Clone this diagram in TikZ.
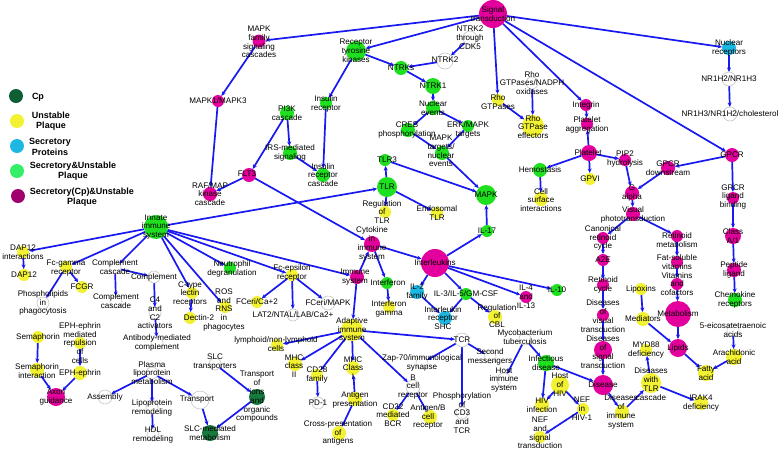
\documentclass[tikz,border=0pt]{standalone}
\usepackage{fontspec}
\setmainfont{Liberation Sans}
\usetikzlibrary{arrows.meta}
\definecolor{mg}{HTML}{E4009C}
\definecolor{gn}{HTML}{1EE01E}
\definecolor{yl}{HTML}{F2F232}
\definecolor{cy}{HTML}{1CB8E2}
\definecolor{dg}{HTML}{167A3E}
\definecolor{eb}{HTML}{1818F0}
\definecolor{lgcp}{HTML}{0B5E36}
\definecolor{lgsu}{HTML}{33EE66}
\definecolor{lgsc}{HTML}{A0006E}
\pgfdeclarelayer{bg}\pgfdeclarelayer{edges}\pgfdeclarelayer{labels}
\pgfsetlayers{bg,edges,main,labels}
\tikzset{
 vx/.style={circle,inner sep=0pt,outer sep=0pt},
 M/.style={vx,fill=mg}, G/.style={vx,fill=gn}, Y/.style={vx,fill=yl},
 C/.style={vx,fill=cy}, D/.style={vx,fill=dg},
 W/.style={vx,fill=white,draw=gray!45,line width=0.6pt},
 lbl/.style={inner sep=0pt,align=center,font=\fontsize{8.1}{8.8}\selectfont,text=black},
 ed/.style={draw=eb,line width=1.7pt,-{Stealth[length=4.5pt,width=4pt]}},
 lg/.style={inner sep=0pt,align=center,font=\bfseries\fontsize{9}{10.5}\selectfont}
}
\newcommand\V[6]{\node[#3,minimum size=#4pt] (#1) at (#2) {};
\begin{pgfonlayer}{labels}\node[lbl] (#1-t) at (#5) {#6};\end{pgfonlayer}}
\begin{document}
\begin{tikzpicture}[x=1pt,y=-1pt]
\begin{pgfonlayer}{bg}\fill[white] (0,0) rectangle (778,451);\end{pgfonlayer}
\useasboundingbox (0,0) rectangle (778,451);
% legend
\node[vx,fill=lgcp,minimum size=14pt] (l1) at (16,96) {}; \node[lg] (l1t) at (38,97) {Cp};
\node[vx,fill=yl,minimum size=14pt] (l2) at (17,121) {}; \node[lg] (l2t) at (51,121) {Unstable\\Plaque};
\node[vx,fill=cy,minimum size=14pt] (l3) at (17,146) {}; \node[lg] (l3t) at (50,147) {Secretory\\Proteins};
\node[vx,fill=lgsu,minimum size=14pt] (l4) at (17,171) {}; \node[lg] (l4t) at (73,171) {Secretory\&Unstable\\Plaque};
\node[vx,fill=lgsc,minimum size=14pt] (l5) at (18,196) {}; \node[lg] (l5t) at (82,197) {Secretory(Cp)\&Unstable\\Plaque};
% nodes
\V{st}{493,14}{M}{28}{493,14}{Signal\\transduction}
\V{mapkfam}{259,41}{M}{13}{259,42}{MAPK\\family\\signaling\\cascades}
\V{rtk}{356,51}{G}{20}{356,51}{Receptor\\tyrosine\\kinases}
\V{ntrkc}{470,38}{W}{14}{470,38}{NTRK2\\through\\CDK5}
\V{ntrktwo}{445,61}{W}{16}{445,60}{NTRK2}
\V{ntrks}{401,68}{G}{14}{401,68}{NTRKs}
\V{ntrkone}{433,86}{G}{16}{433,86}{NTRK1}
\V{nuc}{433,108}{G}{14}{433,108}{Nuclear\\events}
\V{creb}{408,130}{G}{14}{407,130}{CREB\\phosphorylation}
\V{erk}{468,126}{G}{12}{468,130}{ERK/MAPK\\targets}
\V{mapkt}{442,153}{G}{14}{441,151}{MAPK\\targets/\\nuclear\\events}
\V{rhog}{498,100}{Y}{12}{498,102}{Rho\\GTPases}
\V{rhon}{532,83}{W}{12}{532,83}{Rho\\GTPases/NADPH\\oxidases}
\V{rhoe}{533,126}{Y}{22}{533,127}{Rho\\GTPase\\effectors}
\V{integrin}{586,105}{M}{12}{586,105}{Integrin}
\V{plagg}{587,124}{M}{12}{587,125}{Platelet\\aggregation}
\V{platelet}{589,153}{M}{16}{588,153}{Platelet}
\V{pip}{625,160}{M}{12}{625,159}{PIP2\\hydrolysis}
\V{gpcr}{732,155}{M}{14}{732,155}{GPCR}
\V{nucrec}{729,48}{C}{14}{729,48}{Nuclear\\receptors}
\V{nra}{729,79}{W}{14}{729,79}{NR1H2/NR1H3}
\V{nrb}{730,114}{W}{14}{730,114}{NR1H3/NR1H2/cholesterol}
\V{gpvi}{590,179}{Y}{12}{590,179}{GPVI}
\V{hemo}{540,170}{G}{14}{540,170}{Hemostasis}
\V{cellsurf}{541,199}{Y}{14}{541,200}{Cell\\surface\\interactions}
\V{gpcrdown}{668,168}{M}{14}{668,168}{GPCR\\downstream}
\V{galpha}{632,193}{M}{14}{632,193}{G\\alpha}
\V{visual}{633,214}{M}{14}{633,215}{Visual\\phototransduction}
\V{canon}{603,238}{M}{12}{603,238}{Canonical\\retinoid\\cycle}
\V{retmet}{677,236}{M}{12}{677,240}{Retinoid\\metabolism}
\V{atwoe}{603,260}{M}{12}{603,260}{A2E}
\V{fatsol}{677,262}{M}{12}{677,262}{Fat-soluble\\vitamins}
\V{vitco}{677,284}{M}{12}{677,284}{Vitamins\\and\\cofactors}
\V{retcyc}{603,285}{M}{12}{603,285}{Retinoid\\cycle}
\V{lipox}{641,289}{Y}{12}{641,289}{Lipoxins}
\V{gpcrlig}{733,198}{M}{12}{733,197}{GPCR\\ligand\\binding}
\V{classa}{733,236}{M}{16}{733,236}{Class\\A/1}
\V{peptide}{734,270}{M}{14}{734,270}{Peptide\\ligand}
\V{chemo}{735,300}{G}{14}{735,300}{Chemokine\\receptors}
\V{disvis}{603,315}{M}{12}{603,316}{Diseases\\of\\visual\\transduction}
\V{dissig}{603,350}{M}{18}{603,352}{Diseases\\of\\signal\\transduction}
\V{disease}{603,385}{M}{20}{603,385}{Disease}
\V{mediators}{643,319}{Y}{14}{643,319}{Mediators}
\V{metab}{678,314}{M}{26}{678,314}{Metabolism}
\V{lipids}{678,348}{M}{18}{678,348}{Lipids}
\V{eico}{733,330}{W}{12}{733,330}{5-eicosatetraenoic\\acids}
\V{arach}{734,357}{Y}{16}{734,357}{Arachidonic\\acid}
\V{fatty}{706,373}{Y}{16}{706,373}{Fatty\\acid}
\V{myd}{646,350}{Y}{12}{646,350}{MYD88\\deficiency}
\V{distlr}{651,383}{Y}{20}{651,384}{Diseases\\with\\TLR\\cascade}
\V{disimm}{622,412}{Y}{14}{621,412}{Diseases\\of\\immune\\system}
\V{irak}{701,403}{Y}{14}{701,403}{IRAK4\\deficiency}
\V{nef}{583,409}{Y}{12}{582,409}{NEF\\in\\HIV-1}
\V{ilshc}{445,318}{C}{14}{443,318}{Interleukin\\receptor\\SHC}
\V{cbl}{495,317}{Y}{14}{497,316}{Regulation\\of\\CBL}
\V{ilfour}{526,297}{M}{12}{526,297}{IL-4\\and\\IL-13}
\V{tcr}{462,340}{W}{14}{462,340}{TCR}
\V{myco}{525,339}{W}{12}{525,337}{Mycobacterium\\tuberculosis}
\V{second}{490,357}{W}{12}{490,357}{Second\\messengers}
\V{zap}{422,363}{W}{12}{422,363}{Zap-70/immunological\\synapse}
\V{infect}{546,363}{G}{16}{546,363}{Infectious\\disease}
\V{hostimm}{504,380}{W}{14}{504,380}{Host\\immune\\system}
\V{hosthiv}{560,385}{Y}{18}{560,385}{Host\\of\\HIV}
\V{bcell}{413,387}{W}{14}{413,387}{B\\cell\\receptor}
\V{hivinf}{542,405}{Y}{14}{542,405}{HIV\\infection}
\V{cdthree}{462,413}{W}{12}{462,413}{Phosphorylation\\of\\CD3\\and\\TCR}
\V{cdbcr}{393,415}{Y}{12}{393,415}{CD22\\mediated\\BCR}
\V{antb}{430,417}{Y}{14}{428,417}{Antigen/B\\cell\\receptor}
\V{nefsig}{540,437}{Y}{12}{540,433}{NEF\\and\\signal\\transduction}
\V{fceca}{257,302}{Y}{12}{257,302}{FCeri/Ca+2}
\V{fcemapk}{328,303}{W}{14}{328,303}{FCeri/MAPK}
\V{lat}{293,315}{W}{12}{293,315}{LAT2/NTAL/LAB/Ca2+}
\V{adapt}{352,330}{Y}{22}{352,330}{Adaptive\\immune\\system}
\V{lymph}{277,345}{Y}{12}{276,344}{lymphoid/non-lymphoid\\cells}
\V{mhctwo}{295,364}{Y}{14}{294,366}{MHC\\class\\II}
\V{mhcone}{353,368}{Y}{14}{353,368}{MHC\\Class\\I}
\V{cdfam}{317,375}{Y}{12}{317,375}{CD28\\family}
\V{pdone}{318,403}{W}{12}{318,403}{PD-1}
\V{antpres}{355,399}{Y}{14}{355,400}{Antigen\\presentation}
\V{cross}{339,433}{Y}{14}{338,433}{Cross-presentation\\of\\antigens}
\V{slc}{215,364}{W}{12}{215,362}{SLC\\transporters}
\V{transions}{257,397}{D}{16}{257,397}{Transport\\of\\ions\\and\\organic\\compounds}
\V{transport}{200,400}{W}{18}{197,400}{Transport}
\V{slcmet}{210,433}{D}{16}{210,433}{SLC-mediated\\metabolism}
\V{phospho}{43,303}{W}{12}{43,303}{Phospholipids\\in\\phagocytosis}
\V{compctwo}{116,302}{W}{12}{116,301}{Complement\\cascade}
\V{sema}{38,337}{Y}{12}{38,337}{Semaphorin}
\V{ephmed}{80,343}{Y}{12}{80,343}{EPH-ephrin\\mediated\\repulsion\\of\\cells}
\V{semaint}{37,370}{Y}{14}{37,371}{Semaphorin\\interaction}
\V{eph}{80,373}{Y}{14}{80,373}{EPH-ephrin}
\V{axon}{56,397}{M}{18}{56,397}{Axon\\guidance}
\V{cfour}{155,313}{W}{12}{155,313}{C4\\and\\C2\\activators}
\V{antibody}{157,343}{W}{12}{157,343}{Antibody-mediated\\complement}
\V{dectin}{190,318}{Y}{12}{199,318}{Dectin-2}
\V{plasma}{152,373}{W}{12}{152,373}{Plasma\\lipoprotein\\metabolism}
\V{assembly}{105,397}{W}{14}{105,397}{Assembly}
\V{liprem}{152,408}{W}{12}{152,408}{Lipoprotein\\remodeling}
\V{hdl}{153,435}{W}{12}{153,435}{HDL\\remodeling}
\V{innate}{156,227}{G}{24}{156,227}{Innate\\immune\\system}
\V{dapi}{23,252}{Y}{12}{23,252}{DAP12\\interactions}
\V{dap}{24,275}{Y}{12}{24,275}{DAP12}
\V{fcg}{66,267}{Y}{12}{66,268}{Fc-gamma\\receptor}
\V{fcgr}{82,287}{Y}{12}{82,287}{FCGR}
\V{compc}{115,268}{W}{12}{115,267}{Complement\\cascade}
\V{compl}{154,277}{W}{12}{154,277}{Complement}
\V{ctype}{192,293}{Y}{12}{190,294}{C-type\\lectin\\receptors}
\V{neutro}{230,268}{G}{12}{232,269}{Neutrophil\\degranulation}
\V{ros}{225,307}{Y}{12}{224,310}{ROS\\and\\RNS\\in\\phagocytes}
\V{fce}{292,275}{Y}{12}{292,273}{Fc-epsilon\\receptor}
\V{raf}{210,194}{M}{14}{210,194}{RAF/MAP\\kinase\\cascade}
\V{flt}{249,175}{M}{14}{247,174}{FLT3}
\V{irs}{290,153}{G}{14}{290,153}{IRS-mediated\\signaling}
\V{irc}{323,175}{G}{14}{323,175}{Insulin\\receptor\\cascade}
\V{pik}{287,113}{G}{14}{287,113}{PI3K\\cascade}
\V{insr}{326,103}{G}{12}{326,104}{Insulin\\receptor}
\V{mapkot}{218,101}{M}{12}{218,101}{MAPK1/MAPK3}
\V{tlrthree}{385,160}{G}{12}{387,160}{TLR3}
\V{tlr}{387,187}{G}{20}{387,187}{TLR}
\V{regtlr}{385,212}{Y}{12}{382,212}{Regulation\\of\\TLR}
\V{endo}{437,213}{Y}{12}{437,213}{Endosomal\\TLR}
\V{mapk}{486,195}{G}{20}{486,195}{MAPK}
\V{ilsev}{487,231}{G}{12}{487,231}{IL-17}
\V{ils}{435,263}{M}{28}{435,263}{Interleukins}
\V{iltwo}{417,292}{C}{14}{417,292}{IL-2\\family}
\V{ilthree}{466,294}{G}{12}{466,294}{IL-3/IL-5/GM-CSF}
\V{ilten}{557,290}{G}{12}{557,290}{IL-10}
\V{cyto}{372,244}{M}{16}{372,244}{Cytokine\\in\\immune\\system}
\V{immune}{357,277}{M}{14}{355,277}{Immune\\system}
\V{ifn}{387,283}{G}{12}{388,283}{Interferon}
\V{ifng}{389,307}{Y}{12}{389,309}{Interferon\\gamma}
% edges
\begin{pgfonlayer}{edges}
\foreach \a/\b in {st/mapkfam,st/rtk,st/rhog,st/integrin,st/gpcr,st/nucrec,
 mapkfam/mapkot,mapkot/raf,flt/raf,pik/flt,pik/irs,irs/irc,insr/irc,rtk/insr,rtk/ntrks,
 ntrktwo/ntrks,ntrkc/ntrktwo,ntrks/ntrkone,ntrkone/nuc,nuc/creb,nuc/erk,creb/mapkt,erk/mapkt,
 mapkt/mapk,tlrthree/mapk,tlr/tlrthree,tlr/endo,tlr/regtlr,innate/tlr,ilsev/mapk,ils/ilsev,
 ils/iltwo,ils/ilthree,ils/ilfour,ils/ilten,cyto/ils,cyto/ifn,ifn/ifng,flt/cyto,immune/cyto,
 immune/adapt,innate/immune,innate/fce,innate/neutro,innate/ros,innate/ctype,innate/dapi,
 innate/fcg,innate/compc,dapi/dap,fcg/fcgr,fcg/phospho,compc/compctwo,compc/compl,compl/cfour,
 cfour/antibody,ctype/dectin,fce/fceca,fce/lat,fce/fcemapk,adapt/lymph,adapt/mhctwo,adapt/cdfam,
 adapt/mhcone,adapt/tcr,adapt/bcell,cdfam/pdone,antpres/mhcone,antpres/cross,tcr/zap,tcr/second,
 tcr/cdthree,bcell/cdbcr,bcell/antb,iltwo/ilshc,ilthree/ilshc,ilthree/cbl,myco/hostimm,myco/infect,
 infect/hivinf,infect/disease,hosthiv/hivinf,hosthiv/nef,nef/nefsig,disease/disimm,disimm/distlr,
 distlr/myd,distlr/irak,dissig/disease,disvis/dissig,retcyc/disvis,atwoe/retcyc,canon/atwoe,
 visual/canon,visual/retmet,galpha/visual,pip/galpha,gpcrdown/galpha,gpcr/gpcrdown,gpcr/gpcrlig,
 platelet/pip,platelet/gpvi,platelet/plagg,platelet/hemo,integrin/plagg,hemo/cellsurf,
 retmet/fatsol,fatsol/vitco,vitco/metab,metab/lipids,mediators/lipids,lipox/mediators,
 lipids/fatty,arach/fatty,eico/arach,gpcrlig/classa,classa/peptide,peptide/chemo,
 nucrec/nra,nra/nrb,rhog/rhoe,rhon/rhoe,sema/semaint,semaint/axon,ephmed/eph,eph/axon,
 plasma/assembly,plasma/liprem,plasma/transport,liprem/hdl,slc/transions,transport/slcmet,
 transions/slcmet}
 \draw[ed] (\a) -- (\b);
\end{pgfonlayer}
\end{tikzpicture}
\end{document}
